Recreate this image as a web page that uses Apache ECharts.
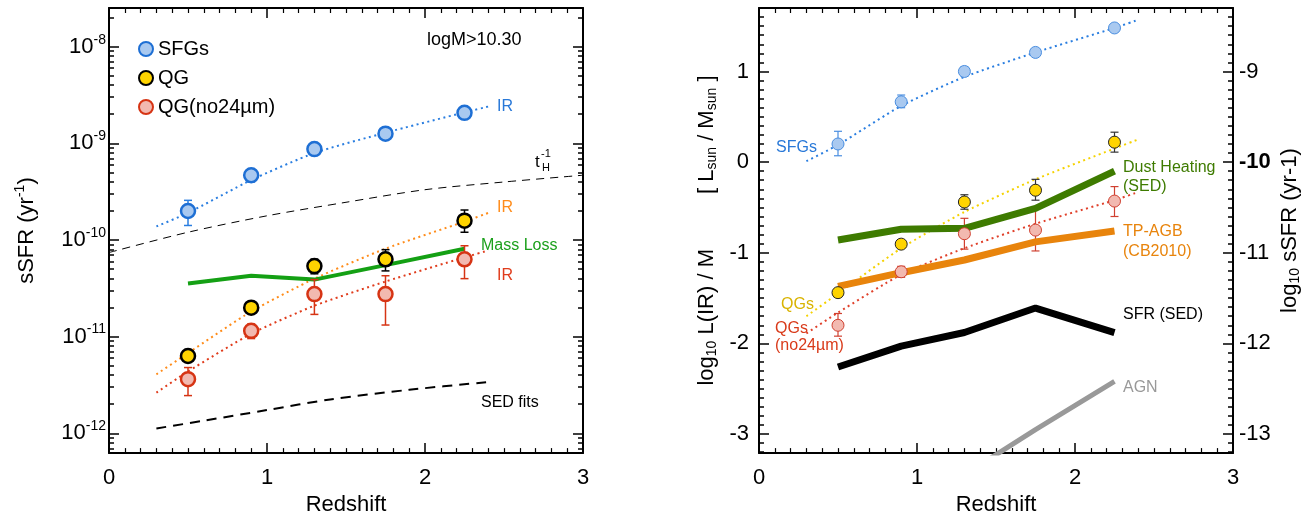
<!DOCTYPE html>
<html>
<head>
<meta charset="utf-8">
<script src="https://cdn.jsdelivr.net/npm/echarts@6/dist/echarts.min.js"></script>
<style>
  html, body { margin: 0; padding: 0; background: #fff; }
  #main { width: 1315px; height: 521px; }
</style>
</head>
<body>
<div id="main"></div>
<script>
// redshift bins
var zBins = [0.5, 0.9, 1.3, 1.75, 2.25];

// left panel: log10 sSFR (yr^-1)
var sfgVal = [-9.70, -9.33, -9.06, -8.90, -8.685];
var sfgLo = [-9.85, -9.40, -9.12, -8.93, -8.71];
var sfgHi = [-9.59, -9.29, -9.00, -8.87, -8.66];
var qgVal = [-11.20, -10.70, -10.27, -10.20, -9.80];
var qgLo = [-11.22, -10.72, -10.35, -10.32, -9.92];
var qgHi = [-11.18, -10.68, -10.20, -10.10, -9.69];
var qgnoVal = [-11.44, -10.94, -10.56, -10.56, -10.20];
var qgnoLo = [-11.61, -11.02, -10.77, -10.88, -10.40];
var qgnoHi = [-11.32, -10.87, -10.41, -10.37, -10.06];

var fitZ = [0.3, 0.5, 0.9, 1.3, 1.75, 2.25, 2.4];
var sfgFit = [-9.86, -9.72, -9.38, -9.10, -8.89, -8.68, -8.62];
var qgFit = [-11.39, -11.17, -10.74, -10.40, -10.09, -9.81, -9.72];
var qgnoFit = [-11.58, -11.36, -10.97, -10.68, -10.43, -10.18, -10.11];

var tHz = [0, 0.5, 1, 1.5, 2, 2.5, 3];
var tHinv = [-10.13, -9.92, -9.75, -9.61, -9.48, -9.40, -9.33];
var sedZ = [0.3, 0.6, 1.0, 1.4, 1.9, 2.4];
var sedFit = [-11.95, -11.87, -11.76, -11.65, -11.55, -11.47];
var massLoss = [-10.45, -10.37, -10.41, -10.26, -10.09];

// right panel: log10 L(IR)/M
var sfgR = [0.20, 0.665, 1.00, 1.21, 1.48];
var sfgRLo = [0.07, 0.60, 0.95, 1.19, 1.46];
var sfgRHi = [0.34, 0.74, 1.05, 1.23, 1.50];
var qgR = [-1.44, -0.905, -0.44, -0.31, 0.22];
var qgRLo = [-1.46, -0.93, -0.52, -0.42, 0.11];
var qgRHi = [-1.42, -0.88, -0.36, -0.19, 0.33];
var qgnoR = [-1.80, -1.21, -0.79, -0.75, -0.43];
var qgnoRLo = [-1.92, -1.27, -0.96, -0.98, -0.60];
var qgnoRHi = [-1.67, -1.15, -0.62, -0.52, -0.27];

var sfgRFit = [0.01, 0.19, 0.62, 0.94, 1.21, 1.48, 1.57];
var qgRFit = [-1.70, -1.45, -0.95, -0.55, -0.19, 0.15, 0.25];
var qgnoRFit = [-1.89, -1.66, -1.24, -0.95, -0.68, -0.42, -0.33];

var dustHeating = [-0.86, -0.74, -0.73, -0.51, -0.10];
var tpAgb = [-1.37, -1.22, -1.08, -0.88, -0.76];
var sfrSed = [-2.26, -2.03, -1.88, -1.61, -1.88];
var agnZ = [1.3, 1.75, 2.25];
var agn = [-3.45, -2.95, -2.42];

// tick labels
var xTicks = [0, 1, 2, 3];
var leftDecades = [-12, -11, -10, -9, -8];
var rightMajor = [-3, -2, -1, 0, 1];

var FONT = 'Liberation Sans, Arial, sans-serif';
var L_MIN = -12.205, L_MAX = -7.60;
var R_MIN = -3.21, R_MAX = 1.70;

function pairs(xs, ys) {
  return xs.map(function(x, i) { return [x, ys[i]]; });
}
function triples(xs, lo, hi) {
  return xs.map(function(x, i) { return [x, lo[i], hi[i]]; });
}

// minor ticks
var leftMinor = [];
for (var d = -13; d <= -8; d++) {
  for (var k = 2; k <= 9; k++) {
    var v = d + Math.log10(k);
    if (v > L_MIN && v < L_MAX) leftMinor.push(v);
  }
}
var rightMinor = [];
for (var t = -32; t <= 17; t++) {
  if (t % 10 !== 0) rightMinor.push(t / 10);
}

function xAxisCfg(gridIndex, pos, showLabel) {
  return {
    type: 'value', gridIndex: gridIndex, position: pos, min: 0, max: 3, interval: 1,
    axisLine: { show: true, onZero: false, lineStyle: { color: '#000', width: 2 } },
    axisTick: { show: true, inside: true, length: 10, lineStyle: { color: '#000', width: 1.5 } },
    minorTick: { show: true, splitNumber: 10, length: 5, lineStyle: { color: '#000', width: 1.2 } },
    splitLine: { show: false },
    axisLabel: { show: showLabel, fontSize: 22, color: '#000', fontFamily: FONT, margin: 14 },
    name: showLabel ? 'Redshift' : '',
    nameLocation: 'middle', nameGap: 38,
    nameTextStyle: { fontSize: 22, color: '#000', fontFamily: FONT }
  };
}

function yAxisCfg(gridIndex, pos, min, max, ticks, len, line) {
  return {
    type: 'value', gridIndex: gridIndex, position: pos, min: min, max: max,
    axisLine: { show: line, onZero: false, lineStyle: { color: '#000', width: 2 } },
    axisTick: { show: true, inside: true, length: len, customValues: ticks, lineStyle: { color: '#000', width: 1.5 } },
    splitLine: { show: false },
    axisLabel: { show: false }
  };
}

var yAxes = [];
// grid 0
var y0 = yAxisCfg(0, 'left', L_MIN, L_MAX, leftDecades, 10, true);
y0.axisLabel = {
  show: true, customValues: leftDecades, margin: 3, fontFamily: FONT, color: '#000',
  formatter: function(v) { return '{b|10}{s|' + v + '}'; },
  rich: {
    b: { fontSize: 22, fontFamily: FONT, color: '#000' },
    s: { fontSize: 14, fontFamily: FONT, color: '#000', padding: [0, 0, 14, 0] }
  }
};
y0.name = 'sSFR (yr{sup|-1})';
y0.nameLocation = 'middle';
y0.nameGap = 68;
y0.nameRotate = 90;
y0.nameTextStyle = {
  fontSize: 22, color: '#000', fontFamily: FONT,
  rich: { sup: { fontSize: 14, fontFamily: FONT, color: '#000', padding: [0, 0, 14, 0] } }
};
yAxes.push(y0);
yAxes.push(yAxisCfg(0, 'left', L_MIN, L_MAX, leftMinor, 5, false));
yAxes.push(yAxisCfg(0, 'right', L_MIN, L_MAX, leftDecades, 10, true));
yAxes.push(yAxisCfg(0, 'right', L_MIN, L_MAX, leftMinor, 5, false));

// grid 1
var y4 = yAxisCfg(1, 'left', R_MIN, R_MAX, rightMajor, 10, true);
y4.axisLabel = { show: true, customValues: rightMajor, margin: 10, fontSize: 22, color: '#000', fontFamily: FONT };
y4.name = '{n|log}{sub|10}{n| L(IR) / M}{gap|}{n|[ L}{sub|sun}{n| / M}{sub|sun}{n| ]}';
y4.nameLocation = 'middle';
y4.nameGap = 40;
y4.nameRotate = 90;
y4.nameTextStyle = {
  fontSize: 22, color: '#000', fontFamily: FONT,
  rich: {
    n: { fontSize: 22, fontFamily: FONT, color: '#000' },
    sub: { fontSize: 14, fontFamily: FONT, color: '#000', padding: [10, 0, 0, 0] },
    gap: { width: 55 }
  }
};
yAxes.push(y4);
yAxes.push(yAxisCfg(1, 'left', R_MIN, R_MAX, rightMinor, 5, false));
var y6 = yAxisCfg(1, 'right', R_MIN, R_MAX, rightMajor, 10, true);
y6.axisLabel = {
  show: true, customValues: rightMajor, margin: 6, fontFamily: FONT, color: '#000',
  formatter: function(v) { var s = String(v - 10); return v === 0 ? '{bold|' + s + '}' : '{n|' + s + '}'; },
  rich: {
    n: { fontSize: 22, fontFamily: FONT, color: '#000' },
    bold: { fontSize: 22, fontFamily: FONT, color: '#000', fontWeight: 'bold' }
  }
};
y6.name = '{n|log}{sub|10}{n| sSFR (yr-1)}';
y6.nameLocation = 'middle';
y6.nameGap = 45;
y6.nameRotate = 90;
y6.nameTextStyle = {
  fontSize: 22, color: '#000', fontFamily: FONT,
  rich: {
    n: { fontSize: 22, fontFamily: FONT, color: '#000' },
    sub: { fontSize: 14, fontFamily: FONT, color: '#000', padding: [10, 0, 0, 0] }
  }
};
yAxes.push(y6);
yAxes.push(yAxisCfg(1, 'right', R_MIN, R_MAX, rightMinor, 5, false));

function lineSeries(xi, yi, data, color, width, type, smooth, z) {
  return {
    type: 'line', xAxisIndex: xi, yAxisIndex: yi, data: data, symbol: 'none',
    smooth: smooth, silent: true, z: z || 2, clip: true,
    lineStyle: { color: color, width: width, type: type, cap: 'butt' }
  };
}

function errSeries(xi, yi, data, color, width, cap) {
  return {
    type: 'custom', xAxisIndex: xi, yAxisIndex: yi, data: data, z: 3, silent: true,
    itemStyle: { color: color },
    renderItem: function(params, api) {
      var pLo = api.coord([api.value(0), api.value(1)]);
      var pHi = api.coord([api.value(0), api.value(2)]);
      var st = { stroke: color, lineWidth: width };
      return {
        type: 'group',
        children: [
          { type: 'line', shape: { x1: pLo[0], y1: pLo[1], x2: pHi[0], y2: pHi[1] }, style: st },
          { type: 'line', shape: { x1: pLo[0] - cap, y1: pLo[1], x2: pLo[0] + cap, y2: pLo[1] }, style: st },
          { type: 'line', shape: { x1: pHi[0] - cap, y1: pHi[1], x2: pHi[0] + cap, y2: pHi[1] }, style: st }
        ]
      };
    }
  };
}

function scatterSeries(name, xi, yi, data, fill, border, bw, size) {
  return {
    name: name, type: 'scatter', xAxisIndex: xi, yAxisIndex: yi, data: data,
    symbol: 'circle', symbolSize: size, z: 5, silent: true,
    itemStyle: { color: fill, borderColor: border, borderWidth: bw, opacity: 1 }
  };
}

var DOT = [2, 3.5];

var series = [
  // left panel
  lineSeries(0, 0, pairs(tHz, tHinv), '#000', 1, [8, 6], 0.3),
  lineSeries(0, 0, pairs(sedZ, sedFit), '#000', 2, [10, 7], 0.3),
  lineSeries(0, 0, pairs(fitZ, sfgFit), '#2a7ee0', 2, DOT, 0.2),
  lineSeries(0, 0, pairs(fitZ, qgFit), '#ff8c1a', 2, DOT, 0.2),
  lineSeries(0, 0, pairs(fitZ, qgnoFit), '#e03c1c', 2, DOT, 0.2),
  lineSeries(0, 0, pairs(zBins, massLoss), '#14a014', 4, 'solid', false),
  errSeries(0, 0, triples(zBins, sfgLo, sfgHi), '#2a7ee0', 1.5, 4),
  errSeries(0, 0, triples(zBins, qgLo, qgHi), '#000', 1.5, 4),
  errSeries(0, 0, triples(zBins, qgnoLo, qgnoHi), '#d63414', 1.5, 4),
  scatterSeries('SFGs', 0, 0, pairs(zBins, sfgVal), '#a9c9f0', '#1e6fd4', 2.5, 14),
  scatterSeries('QG', 0, 0, pairs(zBins, qgVal), '#ffd400', '#000', 2.5, 14),
  scatterSeries('QG(no24\u00b5m)', 0, 0, pairs(zBins, qgnoVal), '#f2b9b0', '#d63414', 2.5, 14),

  // right panel
  lineSeries(2, 4, pairs(fitZ, sfgRFit), '#2a7ee0', 2, DOT, 0.2),
  lineSeries(2, 4, pairs(fitZ, qgRFit), '#f5d200', 2, DOT, 0.2),
  lineSeries(2, 4, pairs(fitZ, qgnoRFit), '#e0402a', 2, DOT, 0.2),
  lineSeries(2, 4, pairs(zBins, dustHeating), '#3e7b00', 7, 'solid', false, 4),
  lineSeries(2, 4, pairs(zBins, tpAgb), '#e8840c', 7, 'solid', false, 4),
  lineSeries(2, 4, pairs(zBins, sfrSed), '#000', 7, 'solid', false, 4),
  lineSeries(2, 4, pairs(agnZ, agn), '#999', 5, 'solid', false, 4),
  errSeries(2, 4, triples(zBins, sfgRLo, sfgRHi), '#4a8ee0', 1.2, 4),
  errSeries(2, 4, triples(zBins, qgRLo, qgRHi), '#333', 1.2, 4),
  errSeries(2, 4, triples(zBins, qgnoRLo, qgnoRHi), '#d04030', 1.2, 4),
  scatterSeries('SFGs-r', 2, 4, pairs(zBins, sfgR), '#a9c9f0', '#4a8ee0', 1, 12),
  scatterSeries('QGs-r', 2, 4, pairs(zBins, qgR), '#ffd400', '#222', 1, 12),
  scatterSeries('QGs-no24-r', 2, 4, pairs(zBins, qgnoR), '#f2b9b0', '#d04030', 1, 12)
];

function label(x, y, s, color, size) {
  return {
    type: 'text', x: x, y: y, z: 10, silent: true,
    style: { text: s, fill: color, font: size + 'px ' + FONT, verticalAlign: 'middle' }
  };
}

var graphics = [
  label(427, 40, 'logM>10.30', '#000', 18),
  label(497, 107, 'IR', '#2878d8', 16),
  label(535, 162, 't', '#000', 17),
  label(541, 154, '-1', '#000', 11),
  label(542, 168, 'H', '#000', 11),
  label(497, 208, 'IR', '#ff8c1a', 16),
  label(481, 246, 'Mass Loss', '#1ca01c', 16),
  label(497, 276, 'IR', '#e03c1c', 16),
  label(481, 403, 'SED fits', '#000', 16),

  label(776, 148, 'SFGs', '#2878d8', 16),
  label(781, 305, 'QGs', '#d9b300', 16),
  label(775, 329, 'QGs', '#d93a1a', 16),
  label(775, 346, '(no24\u00b5m)', '#d93a1a', 16),
  label(1123, 168, 'Dust Heating', '#3e7b00', 16),
  label(1123, 187, '(SED)', '#3e7b00', 16),
  label(1123, 232, 'TP-AGB', '#e8840c', 16),
  label(1123, 252, '(CB2010)', '#e8840c', 16),
  label(1123, 315, 'SFR (SED)', '#000', 16),
  label(1123, 388, 'AGN', '#999', 16)
];

var option = {
  animation: false,
  backgroundColor: '#fff',
  textStyle: { fontFamily: FONT },
  grid: [
    { left: 109, top: 8, width: 474, height: 450 },
    { left: 759, top: 8, width: 474, height: 450 }
  ],
  legend: {
    data: ['SFGs', 'QG', 'QG(no24\u00b5m)'],
    orient: 'vertical', left: 133, top: 34, itemGap: 9,
    itemWidth: 14, itemHeight: 14, icon: 'circle',
    selectedMode: false,
    textStyle: { fontSize: 20, color: '#000', fontFamily: FONT }
  },
  xAxis: [
    xAxisCfg(0, 'bottom', true),
    xAxisCfg(0, 'top', false),
    xAxisCfg(1, 'bottom', true),
    xAxisCfg(1, 'top', false)
  ],
  yAxis: yAxes,
  series: series,
  graphic: graphics
};

var chart = echarts.init(document.getElementById('main'), null, { renderer: 'canvas' });
chart.setOption(option);
</script>
</body>
</html>
